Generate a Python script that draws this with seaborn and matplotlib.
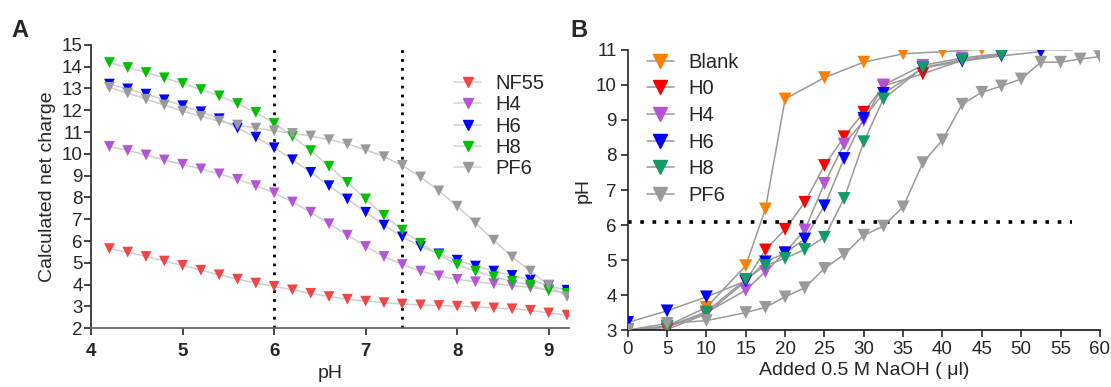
import matplotlib.pyplot as plt
from matplotlib.lines import Line2D
import pandas as pd
import seaborn as sns

# Panel A: calculated net charge vs pH
ph_a = [4.2, 4.4, 4.6, 4.8, 5.0, 5.2, 5.4, 5.6, 5.8, 6.0, 6.2, 6.4, 6.6,
        6.8, 7.0, 7.2, 7.4, 7.6, 7.8, 8.0, 8.2, 8.4, 8.6, 8.8, 9.0, 9.2]
nf55 = [5.65, 5.49, 5.29, 5.08, 4.88, 4.66, 4.45, 4.25, 4.07, 3.92, 3.76, 3.60, 3.45,
        3.33, 3.24, 3.17, 3.11, 3.07, 3.04, 3.01, 2.98, 2.93, 2.89, 2.82, 2.70, 2.60]
h4_a = [10.34, 10.15, 9.95, 9.72, 9.52, 9.31, 9.08, 8.83, 8.54, 8.21, 7.79, 7.32, 6.79,
        6.27, 5.75, 5.29, 4.92, 4.62, 4.40, 4.24, 4.13, 4.04, 3.96, 3.87, 3.76, 3.62]
h6_a = [13.20, 12.98, 12.74, 12.48, 12.21, 11.93, 11.61, 11.18, 10.77, 10.28, 9.73, 9.15, 8.54,
        7.93, 7.32, 6.73, 6.19, 5.75, 5.41, 5.12, 4.85, 4.62, 4.42, 4.21, 3.95, 3.74]
h8_a = [14.19, 13.96, 13.73, 13.49, 13.23, 12.95, 12.66, 12.31, 11.90, 11.40, 10.80, 10.15, 9.43,
        8.69, 7.93, 7.18, 6.50, 5.90, 5.37, 4.92, 4.62, 4.36, 4.15, 3.98, 3.72, 3.60]
pf6_a = [13.05, 12.79, 12.51, 12.24, 11.96, 11.72, 11.50, 11.32, 11.18, 11.06, 10.94, 10.82, 10.65,
         10.45, 10.19, 9.87, 9.47, 8.94, 8.30, 7.60, 6.83, 6.04, 5.27, 4.62, 3.98, 3.45]
names_a = ['NF55', 'H4', 'H6', 'H8', 'PF6']
colors_a = ['#f24545', '#b455d8', '#0000ff', '#00c000', '#9a9a9a']

# Panel B: titration curves
naoh_std = [0, 5, 10, 15, 17.5, 20, 22.5, 25, 27.5, 30, 32.5, 37.5, 42.5, 47.5]
naoh_blank = [0, 5, 10, 15, 17.5, 20, 25, 30, 35, 40, 45, 56.5]
naoh_h6 = [0, 5, 10, 15, 17.5, 20, 22.5, 25, 27.5, 30, 32.5, 37.5, 42.5, 47.5, 52.5]
naoh_pf6 = [0, 5, 10, 15, 17.5, 20, 22.5, 25, 27.5, 30, 32.5, 35, 37.5, 40,
            42.5, 45, 47.5, 50, 52.5, 55, 57.5, 60]
blank = [3.0, 3.12, 3.65, 4.84, 6.46, 9.60, 10.21, 10.65, 10.89, 10.95, 11.02, 11.0]
h0 = [3.0, 3.02, 3.46, 4.40, 5.29, 5.88, 6.65, 7.70, 8.52, 9.22, 9.97, 10.32, 10.70, 10.89]
h4_b = [3.0, 3.08, 3.50, 4.14, 4.67, 5.22, 5.86, 7.19, 8.31, 8.98, 10.0, 10.56, 10.77, 10.90]
h6_b = [3.22, 3.55, 3.95, 4.40, 4.95, 5.20, 5.60, 6.55, 7.90, 9.05, 9.76, 10.48, 10.68, 10.83, 10.95]
h8_b = [3.0, 3.10, 3.52, 4.45, 4.84, 5.05, 5.30, 5.65, 6.76, 8.38, 9.60, 10.50, 10.72, 10.86]
pf6_b = [3.0, 3.19, 3.27, 3.50, 3.65, 3.95, 4.21, 4.76, 5.16, 5.71, 5.97, 6.52, 7.78, 8.43,
         9.45, 9.79, 9.97, 10.17, 10.65, 10.65, 10.74, 10.81]
names_b = ['Blank', 'H0', 'H4', 'H6', 'H8', 'PF6']
colors_b = ['#ff8000', '#ff0000', '#b455d8', '#0000ff', '#169b68', '#9a9a9a']

df_a = pd.concat([pd.DataFrame({'x': ph_a, 'y': v, 'series': n})
                  for n, v in zip(names_a, [nf55, h4_a, h6_a, h8_a, pf6_a])])
df_b = pd.concat([pd.DataFrame({'x': xs, 'y': v, 'series': n})
                  for n, xs, v in zip(names_b,
                                      [naoh_blank, naoh_std, naoh_std, naoh_h6, naoh_std, naoh_pf6],
                                      [blank, h0, h4_b, h6_b, h8_b, pf6_b])])
# the blank curve runs on past its last measured point without a marker
df_b_marks = df_b[~((df_b['series'] == 'Blank') & (df_b['x'] > 50))]

sns.set_style('ticks')
plt.rcParams['font.family'] = ['Liberation Sans', 'DejaVu Sans']

fig = plt.figure(figsize=(11.11, 3.87), dpi=100)
ax1 = fig.add_axes([0.082, 0.152, 0.430, 0.732])
ax2 = fig.add_axes([0.565, 0.147, 0.425, 0.724])

# ---- Panel A
sns.lineplot(data=df_a, x='x', y='y', units='series', estimator=None,
             color='#cfcfcf', linewidth=1.1, ax=ax1, legend=False)
sns.scatterplot(data=df_a, x='x', y='y', hue='series', hue_order=names_a,
                palette=colors_a, marker='v', s=60, linewidth=0, ax=ax1,
                legend=False, zorder=3)
for xv in [6.0, 7.4]:
    ax1.axvline(xv, color='black', linestyle=(0, (1, 2.2)), linewidth=2, zorder=2)
ax1.set_xlim(4, 9.22)
ax1.set_ylim(2, 15)
ax1.set_xticks([4, 5, 6, 7, 8, 9])
ax1.set_yticks(range(2, 16))
ax1.set_xlabel('pH', fontsize=14, labelpad=3)
ax1.set_ylabel('Calculated net charge', fontsize=14, labelpad=4)
ax1.tick_params(axis='x', labelsize=13.5, length=5, width=1.2, pad=6)
ax1.tick_params(axis='y', labelsize=13.5, length=5, width=1.2, pad=1)
for lab in ax1.get_xticklabels():
    lab.set_fontweight('bold')
sns.despine(ax=ax1)
ax1.spines['left'].set_linewidth(1.2)
ax1.spines['bottom'].set_color('#666666')
ax1.spines['bottom'].set_linestyle((0, (2, 1)))
ax1.spines['bottom'].set_linewidth(1.3)
handles_a = [Line2D([], [], color='#d5d5d5', linewidth=1.1, marker='v', markersize=7,
                    markerfacecolor=c, markeredgecolor=c) for c in colors_a]
ax1.legend(handles_a, names_a, loc='upper left', bbox_to_anchor=(0.76, 0.898),
           frameon=False, fontsize=14.5, handlelength=1.35, labelspacing=0.12,
           handletextpad=0.7, borderpad=0, borderaxespad=0)

# ---- Panel B
sns.lineplot(data=df_b, x='x', y='y', units='series', estimator=None,
             color='#999999', linewidth=1.1, ax=ax2, legend=False)
sns.scatterplot(data=df_b_marks, x='x', y='y', hue='series', hue_order=names_b,
                palette=colors_b, marker='v', s=85, linewidth=0, ax=ax2,
                legend=False, zorder=3)
ax2.plot([0, 56.5], [6.1, 6.1], color='black', linestyle=(0, (1, 2.4)),
         linewidth=2.6, zorder=2)
ax2.set_xlim(0, 60)
ax2.set_ylim(3, 11)
ax2.set_xticks(range(0, 61, 5))
ax2.set_yticks(range(3, 12))
ax2.set_xlabel('Added 0.5 M NaOH ( \u03bcl)', fontsize=14, labelpad=3)
ax2.set_ylabel('pH', fontsize=14, labelpad=3)
ax2.tick_params(axis='both', labelsize=13.5, length=5, width=1.2, pad=3)
sns.despine(ax=ax2)
ax2.spines['left'].set_linewidth(1.2)
ax2.spines['bottom'].set_linewidth(1.3)
ax2.spines['bottom'].set_linestyle((0, (3, 1)))
handles_b = [Line2D([], [], color='#999999', linewidth=1.1, marker='v', markersize=10,
                    markerfacecolor=c, markeredgecolor=c) for c in colors_b]
ax2.legend(handles_b, names_b, loc='upper left', bbox_to_anchor=(0.04, 0.99),
           frameon=False, fontsize=14.5, handlelength=1.35, labelspacing=0.38,
           handletextpad=0.7, borderpad=0, borderaxespad=0)

fig.text(0.010, 0.905, 'A', fontsize=17, fontweight='bold')
fig.text(0.513, 0.905, 'B', fontsize=17, fontweight='bold')

fig.savefig('out.png', dpi=100)
